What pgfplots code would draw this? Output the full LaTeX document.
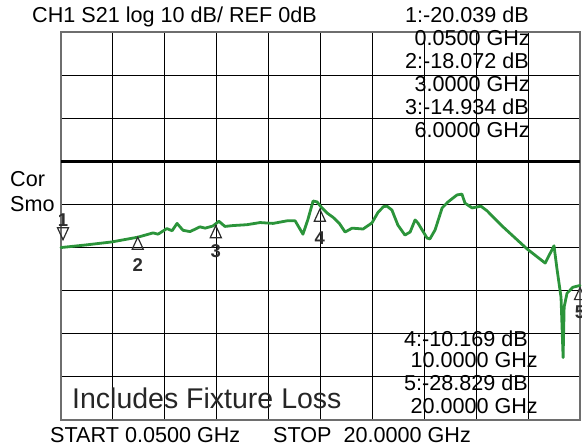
\documentclass[border=0pt]{standalone}
\usepackage{fontspec}
\setmainfont{Liberation Sans}
\usepackage{pgfplots}
\pgfplotsset{compat=1.18}
\definecolor{trace}{RGB}{43,148,58}
\definecolor{frame}{RGB}{110,110,110}
\definecolor{mk}{RGB}{45,45,45}
\newcommand{\tf}{\fontsize{21.6bp}{21.6bp}\selectfont}
\newcommand{\mf}{\fontsize{18.5bp}{18.5bp}\selectfont\bfseries}
\pgfplotsset{
  tri/.style={draw=none, mark=triangle, mark size=8bp,
    mark options={draw=mk, fill=none, line width=1.2bp, yshift=#1, xscale=0.8}},
  num/.style n args={3}{draw=none, mark=text, text mark={#1}, text mark as node=true,
    text mark style={font=\mf, text=mk, inner sep=0pt, anchor=center, yshift=#2, xshift=#3}},
}
\begin{document}
\begin{tikzpicture}[x=1bp,y=1bp]
\useasboundingbox (-61,-27) rectangle (521,420);
\begin{axis}[
  at={(0,0)}, anchor=south west,
  scale only axis, width=519bp, height=388bp,
  xmin=0.05, xmax=20, ymin=-60, ymax=30,
  xtick={0.05,2.045,4.04,6.035,8.03,10.025,12.02,14.015,16.01,18.005,20},
  ytick={-60,-50,-40,-30,-20,-10,0,10,20,30},
  xticklabels={}, yticklabels={},
  major tick length=0pt,
  grid=major,
  major grid style={black, line width=1.1bp},
  axis line style={frame, line width=1.2bp},
  clip=false,
]
\addplot[black, line width=3.2bp] coordinates {(0.05,0) (20,0)};
\addplot[trace, line width=2.8bp, line join=round, line cap=round] table {
x y
0.05 -20.0
1.0 -19.4
2.0 -18.7
3.0 -17.6
3.59 -16.6
3.78 -16.9
4.12 -15.6
4.32 -16.1
4.51 -14.4
4.74 -16.0
5.01 -16.3
5.39 -15.2
5.59 -15.5
5.89 -15.0
6.12 -13.9
6.35 -15.1
6.66 -14.9
7.20 -14.7
7.70 -14.2
8.20 -14.4
8.74 -13.8
9.05 -13.8
9.35 -16.9
9.54 -13.5
9.74 -9.2
9.89 -9.4
10.08 -10.8
10.28 -12.0
10.51 -13.0
10.75 -14.4
10.97 -16.4
11.24 -15.5
11.66 -15.7
12.00 -14.3
12.24 -11.8
12.45 -10.5
12.58 -10.4
12.77 -11.3
13.00 -14.8
13.27 -17.1
13.47 -16.4
13.66 -13.6
13.77 -14.3
14.12 -17.8
14.23 -18.0
14.43 -15.9
14.70 -10.8
14.93 -9.4
15.27 -7.8
15.46 -7.6
15.58 -9.7
15.85 -10.8
16.04 -10.6
16.19 -10.4
16.43 -11.5
17.04 -15.2
17.96 -20.3
18.66 -23.6
19.00 -19.6
19.12 -25.2
19.27 -31.5
19.35 -45.5
19.39 -33.8
19.50 -30.6
19.73 -29.2
20.0 -28.8
};
% marker 1: pointing down, above the trace
\addplot[draw=none, mark=triangle, mark size=8bp,
  mark options={draw=mk, fill=none, line width=1.2bp, xshift=2bp, yshift=16bp, rotate=180, xscale=0.8}]
  coordinates {(0.05,-20.04)};
\addplot[num={1}{28bp}{2bp}] coordinates {(0.05,-20.04)};
% markers 2-5: pointing up, below the trace
\addplot[tri=-6bp] coordinates {(3,-18.07)};
\addplot[num={2}{-26bp}{0bp}] coordinates {(3,-18.07)};
\addplot[tri=-8bp] coordinates {(6,-14.93)};
\addplot[num={3}{-25bp}{0bp}] coordinates {(6,-14.93)};
\addplot[tri=-12bp] coordinates {(10,-10.17)};
\addplot[num={4}{-33bp}{0bp}] coordinates {(10,-10.17)};
\addplot[tri=-10bp] coordinates {(20,-28.83)};
\addplot[num={5}{-27bp}{0bp}] coordinates {(20,-28.83)};
\end{axis}
% header
\node[anchor=base west, inner sep=0pt, font=\tf] at (-29,397) {CH1 S21 log 10 dB/ REF 0dB};
% top-right marker readout
\node[anchor=base east, inner sep=0pt, font=\tf] at (468,397) {1:-20.039 dB};
\node[anchor=base east, inner sep=0pt, font=\tf] at (469,374) {0.0500 GHz};
\node[anchor=base east, inner sep=0pt, font=\tf] at (468,351) {2:-18.072 dB};
\node[anchor=base east, inner sep=0pt, font=\tf] at (469,328) {3.0000 GHz};
\node[anchor=base east, inner sep=0pt, font=\tf] at (468,305) {3:-14.934 dB};
\node[anchor=base east, inner sep=0pt, font=\tf] at (469,282) {6.0000 GHz};
% bottom-right marker readout
\node[anchor=base east, inner sep=0pt, font=\tf] at (467,73) {4:-10.169 dB};
\node[anchor=base east, inner sep=0pt, font=\tf] at (477,52) {10.0000 GHz};
\node[anchor=base east, inner sep=0pt, font=\tf] at (467,29) {5:-28.829 dB};
\node[anchor=base east, inner sep=0pt, font=\tf] at (477,6) {20.0000 GHz};
% left labels
\node[anchor=base west, inner sep=0pt, font=\tf] at (-51,233) {Cor};
\node[anchor=base west, inner sep=0pt, font=\tf] at (-51,208) {Smo};
% fixture note
\node[anchor=base west, inner sep=0pt, font=\fontsize{28.5bp}{28.5bp}\selectfont, text=black!85] at (11,11) {Includes Fixture Loss};
% bottom
\node[anchor=base west, inner sep=0pt, font=\tf] at (-11,-23) {START 0.0500 GHz};
\node[anchor=base west, inner sep=0pt, font=\tf] at (212,-23) {STOP\ \ 20.0000 GHz};
\end{tikzpicture}
\end{document}
